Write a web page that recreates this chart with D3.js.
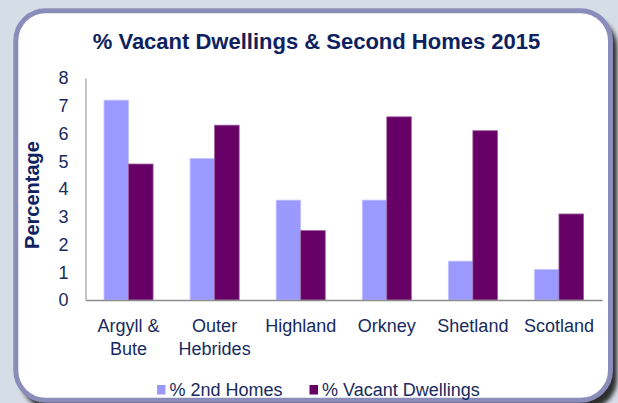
<!DOCTYPE html>
<html>
<head>
<meta charset="utf-8">
<script src="https://cdn.jsdelivr.net/npm/d3@7"></script>
<style>
  body { margin: 0; background: #d5dde7; }
  svg { display: block; font-family: "Liberation Sans", Arial, sans-serif; }
</style>
</head>
<body>
<div id="chart"></div>
<script>
var svgWidth = 618;
var svgHeight = 403;

var regions = ["Argyll & Bute", "Outer Hebrides", "Highland", "Orkney", "Shetland", "Scotland"];
var regionLines = [["Argyll &", "Bute"], ["Outer", "Hebrides"], ["Highland"], ["Orkney"], ["Shetland"], ["Scotland"]];
var seriesNames = ["% 2nd Homes", "% Vacant Dwellings"];
var secondHomes = [7.2, 5.1, 3.6, 3.6, 1.4, 1.1];
var vacantDwellings = [4.9, 6.3, 2.5, 6.6, 6.1, 3.1];
var yTicks = [0, 1, 2, 3, 4, 5, 6, 7, 8];

var colors = ["#9999ff", "#660066"];
var edgeColors = ["#c4c4ff", "#9a5a9a"];
var textColor = "#172a5e";

var margin = { top: 78, right: 16, bottom: 103, left: 85.5 };
var width = svgWidth - margin.left - margin.right;
var height = svgHeight - margin.top - margin.bottom;

var svg = d3.select("#chart")
  .append("svg")
  .attr("width", svgWidth)
  .attr("height", svgHeight);

var defs = svg.append("defs");
defs.append("filter")
  .attr("id", "shadow")
  .attr("x", "-10%").attr("y", "-10%")
  .attr("width", "120%").attr("height", "120%")
  .append("feGaussianBlur")
  .attr("stdDeviation", 2);

// frame
svg.append("rect")
  .attr("x", 0).attr("y", 0)
  .attr("width", svgWidth).attr("height", svgHeight)
  .attr("fill", "#d5dde7");
svg.append("rect")
  .attr("x", 21).attr("y", 17)
  .attr("width", 596).attr("height", 392)
  .attr("rx", 30)
  .attr("fill", "#2e2e2e")
  .attr("filter", "url(#shadow)");
svg.append("rect")
  .attr("x", 15.8).attr("y", 10.8)
  .attr("width", 594.7).attr("height", 389.5)
  .attr("rx", 30)
  .attr("fill", "#ffffff")
  .attr("stroke", "#8a8db9")
  .attr("stroke-width", 5);

svg.append("text")
  .attr("x", 316.5)
  .attr("y", 49)
  .attr("text-anchor", "middle")
  .attr("font-size", "22px")
  .attr("font-weight", "bold")
  .attr("fill", "#0e2160")
  .text("% Vacant Dwellings & Second Homes 2015");

var chartGroup = svg.append("g")
  .attr("transform", `translate(${margin.left}, ${margin.top})`);

var x0 = d3.scaleBand()
  .domain(regions)
  .range([0, width])
  .paddingInner(0.43)
  .paddingOuter(0.215);

var x1 = d3.scaleBand()
  .domain(seriesNames)
  .range([0, x0.bandwidth()]);

var yLinearScale = d3.scaleLinear()
  .domain([0, 8])
  .range([height, 0]);

var leftAxis = d3.axisLeft(yLinearScale)
  .tickValues(yTicks)
  .tickSize(0)
  .tickPadding(17);

var yAxis = chartGroup.append("g")
  .call(leftAxis);
yAxis.select(".domain").attr("stroke", "#8c8c8c");
yAxis.selectAll("text")
  .attr("font-size", "18px")
  .attr("fill", textColor)
  .attr("font-family", "\"Liberation Sans\", Arial, sans-serif");

var rows = regions.map(function(r, i) {
  return { region: r, values: [secondHomes[i], vacantDwellings[i]] };
});

var groups = chartGroup.selectAll(".group")
  .data(rows)
  .enter()
  .append("g")
  .attr("class", "group")
  .attr("transform", d => `translate(${x0(d.region)}, 0)`);

groups.selectAll("rect")
  .data(d => d.values.map((v, j) => ({ series: seriesNames[j], value: v, j: j })))
  .enter()
  .append("rect")
  .attr("x", d => x1(d.series))
  .attr("y", d => yLinearScale(d.value))
  .attr("width", x1.bandwidth())
  .attr("height", d => height - yLinearScale(d.value))
  .attr("fill", d => colors[d.j])
  .attr("stroke", d => edgeColors[d.j])
  .attr("stroke-width", 0.8);

var bottomAxis = d3.axisBottom(x0)
  .tickSize(0)
  .tickFormat("");

var xAxis = chartGroup.append("g")
  .attr("transform", `translate(0, ${height})`)
  .call(bottomAxis);
xAxis.select(".domain").attr("stroke", "#8c8c8c").attr("stroke-width", 1.5);

var xLabels = chartGroup.append("g")
  .selectAll("text")
  .data(regions)
  .enter()
  .append("text")
  .attr("x", d => x0(d) + x0.bandwidth() / 2)
  .attr("y", height + 32)
  .attr("text-anchor", "middle")
  .attr("font-size", "18px")
  .attr("fill", textColor);

xLabels.each(function(d, i) {
  var t = d3.select(this);
  regionLines[i].forEach(function(line, k) {
    t.append("tspan")
      .attr("x", x0(d) + x0.bandwidth() / 2)
      .attr("dy", k === 0 ? 0 : 22.6)
      .text(line);
  });
});

chartGroup.append("text")
  .attr("transform", "rotate(-90)")
  .attr("x", 0 - 117)
  .attr("y", -47)
  .attr("text-anchor", "middle")
  .attr("font-size", "20px")
  .attr("font-weight", "bold")
  .attr("fill", "#0e2160")
  .text("Percentage");

// legend
var legendX = [157, 309.5];
var legend = svg.append("g");
seriesNames.forEach(function(name, j) {
  legend.append("rect")
    .attr("x", legendX[j])
    .attr("y", 385)
    .attr("width", 8.5)
    .attr("height", 9.5)
    .attr("fill", colors[j]);
  legend.append("text")
    .attr("x", legendX[j] + 12.5)
    .attr("y", 395.5)
    .attr("font-size", "18px")
    .attr("fill", textColor)
    .text(name);
});
</script>
</body>
</html>
